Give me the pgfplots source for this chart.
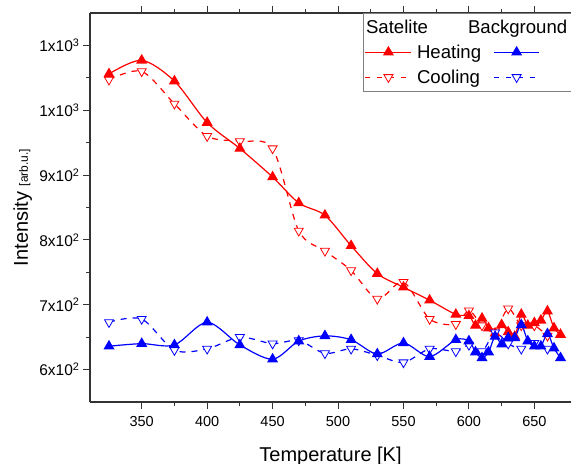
\documentclass[border=0pt]{standalone}
\usepackage{fontspec}
\setmainfont{Liberation Sans}
\usepackage{pgfplots}
\usepackage{pgfplotstable}
\pgfplotsset{compat=1.18}
\definecolor{myred}{RGB}{255,0,0}
\definecolor{myblue}{RGB}{0,0,255}

\pgfplotstableread{
T I
325 1056
350 1077
375 1045
400 981
425 941
450 897
470 857
490 838
510 791
530 748
550 727
570 707
590 685
600 683
605 668
610 679
615 664
620 656
625 669
630 658
635 651
640 685
645 668
650 672
655 676
660 690
665 664
670 654
}\redheat
\pgfplotstableread{
T I
325 1047
350 1060
375 1010
400 960
425 952
450 941
470 814
490 783
510 753
530 709
550 735
570 678
590 670
600 691
610 668
620 659
630 694
640 668
650 668
660 652
}\redcool
\pgfplotstableread{
T I
325 636
350 640
375 638
400 673
425 638
450 616
470 644
490 652
510 646
530 624
550 641
570 620
590 646
600 644
605 627
610 618
615 627
620 651
625 639
630 649
635 649
640 669
645 644
650 636
655 636
660 655
665 633
670 618
}\blueheat
\pgfplotstableread{
T I
325 673
350 678
375 630
400 632
425 650
450 640
470 645
490 625
510 632
530 622
550 611
570 632
590 628
600 638
610 628
620 657
630 640
640 632
650 641
660 632
}\bluecool

\begin{document}
\begin{tikzpicture}
\begin{axis}[
  scale only axis, width=481pt, height=389pt,
  xmin=310.5, xmax=678, ymin=550, ymax=1150,
  axis x line*=box, axis y line*=left,
  xtick={350,400,...,650}, minor x tick num=1,
  ytick={600,700,...,1100},
  yticklabels={6x10\textsuperscript{2},7x10\textsuperscript{2},8x10\textsuperscript{2},9x10\textsuperscript{2},1x10\textsuperscript{3},1x10\textsuperscript{3}},
  minor y tick num=1,
  tick align=outside, major tick length=7pt, minor tick length=4pt,
  tick style={black!80, line width=1pt},
  axis line style={black!80, line width=1.2pt},
  xticklabel style={font=\fontsize{14.5}{14.5}\selectfont, yshift=-4pt},
  yticklabel style={font=\fontsize{15.5}{15.5}\selectfont},
  /pgf/number format/assume math mode=true,
  xlabel={Temperature [K]},
  xlabel style={font=\fontsize{20}{20}\selectfont, at={(axis description cs:0.5,0)}, anchor=base, yshift=-59pt},
  ylabel={Intensity {\fontsize{12}{12}\selectfont[arb.u.]}},
  ylabel style={font=\fontsize{20}{20}\selectfont, at={(axis description cs:0,0.5)}, anchor=base, yshift=62pt},
  legend columns=2,
  legend cell align=left,
  legend style={at={(axis description cs:0.5676,1)}, anchor=north west,
    draw=gray, line width=0.8pt, inner xsep=0pt, inner ysep=2.35pt,
    font=\fontsize{18.6}{18.6}\selectfont,
    column sep=3pt, row sep=2pt,
    nodes={inner sep=2pt, text height=16pt, text depth=3pt},
    cells={anchor=west}},
  legend image code/.code={
    \draw[mark repeat=2,mark phase=2,#1] plot coordinates {(2pt,0pt) (25pt,0pt) (48pt,0pt)};},
  every axis plot/.append style={line width=1.2pt},
  blueimg/.style={legend image code/.code={
    \path[draw=none] (0pt,0pt) -- (120pt,0pt);
    \draw[mark repeat=2,mark phase=2,##1] plot coordinates {(8pt,0pt) (30.5pt,0pt) (53pt,0pt)};}},
]
\addlegendimage{empty legend}
\addlegendentry{\makebox[0pt][l]{\hspace*{-51pt}\makebox[102pt][l]{Satelite}Background}}
\addlegendimage{empty legend}
\addlegendentry{}
\addlegendimage{myred, solid, line width=1.2pt, mark=triangle*, mark size=5.2pt, mark options={solid, fill=myred}}
\addlegendentry{Heating}
\addlegendimage{blueimg, myblue, solid, line width=1.2pt, mark=triangle*, mark size=5.2pt, mark options={solid, fill=myblue}}
\addlegendentry{}
\addlegendimage{myred, line width=1.2pt, dash pattern=on 5pt off 7pt, mark=triangle*, mark size=5.2pt, mark options={solid, rotate=180, fill=white, line width=0.8pt}}
\addlegendentry{Cooling}
\addlegendimage{blueimg, myblue, line width=1.2pt, dash pattern=on 5pt off 7pt, mark=triangle*, mark size=5.2pt, mark options={solid, rotate=180, fill=white, line width=0.8pt}}
\addlegendentry{}

\addplot[forget plot, myred, smooth, dash pattern=on 6pt off 6pt, mark=triangle*, mark size=5.2pt, mark options={solid, rotate=180, fill=white, line width=0.8pt}] table[x=T,y=I] {\redcool};
\addplot[forget plot, myred, smooth, mark=triangle*, mark size=5.2pt, mark options={solid, fill=myred}] table[x=T,y=I] {\redheat};
\addplot[forget plot, myblue, smooth, dash pattern=on 6pt off 6pt, mark=triangle*, mark size=5.2pt, mark options={solid, rotate=180, fill=white, line width=0.8pt}] table[x=T,y=I] {\bluecool};
\addplot[forget plot, myblue, smooth, mark=triangle*, mark size=5.2pt, mark options={solid, fill=myblue}] table[x=T,y=I] {\blueheat};
\end{axis}
\pgfresetboundingbox
\path[use as bounding box] ([shift={(-90pt,-62pt)}]current axis.south west) rectangle ([shift={(0pt,13pt)}]current axis.north east);
\end{tikzpicture}
\end{document}
